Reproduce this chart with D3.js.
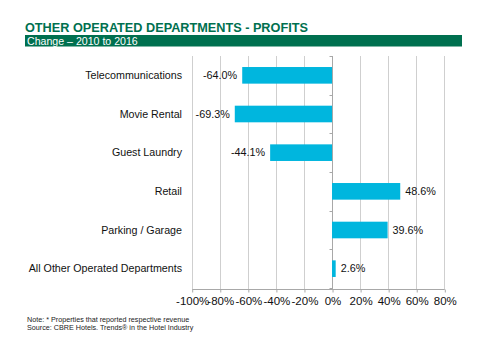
<!DOCTYPE html>
<html>
<head>
<meta charset="utf-8">
<script src="https://cdn.jsdelivr.net/npm/d3@7"></script>
<style>
  body { margin: 0; background: #fff; }
  svg { display: block; font-family: "Liberation Sans", Arial, sans-serif; }
</style>
</head>
<body>
<script>
// Chart data
const categories = ['Telecommunications', 'Movie Rental', 'Guest Laundry', 'Retail', 'Parking / Garage', 'All Other Operated Departments'];
const values = [-64.0, -69.3, -44.1, 48.6, 39.6, 2.6];
const tickValues = [-100, -80, -60, -40, -20, 0, 20, 40, 60, 80];
const titleText = 'OTHER OPERATED DEPARTMENTS - PROFITS';
const subtitleText = 'Change \u2013 2010 to 2016';
const noteLines = ['Note: * Properties that reported respective revenue', 'Source: CBRE Hotels. Trends\u00ae in the Hotel Industry'];

const width = 480, height = 361;
const green = '#00704f';
const barColor = '#00b6de';

const svg = d3.select('body')
    .append('svg')
    .attr('width', width)
    .attr('height', height);

// Title and subtitle band
svg.append('text')
    .attr('x', 25)
    .attr('y', 32)
    .attr('fill', green)
    .attr('font-size', 12.7)
    .attr('font-weight', 'bold')
    .text(titleText);

svg.append('rect')
    .attr('x', 25)
    .attr('y', 35)
    .attr('width', 437)
    .attr('height', 11.5)
    .attr('fill', green);

svg.append('text')
    .attr('x', 27)
    .attr('y', 44.5)
    .attr('fill', '#fff')
    .attr('font-size', 10.6)
    .text(subtitleText);

// Scales
const x = d3.scaleLinear()
    .domain([-100, 80])
    .range([191.7, 444.3]);

const y = d3.scaleBand()
    .domain(categories)
    .range([56, 288])
    .paddingInner(0.57)
    .paddingOuter(0.285);

const plotTop = 56, plotBottom = 289;

// Vertical gridlines
svg.append('g')
    .selectAll('line')
    .data(tickValues)
    .join('line')
    .attr('x1', d => Math.round(x(d)) + 0.5)
    .attr('x2', d => Math.round(x(d)) + 0.5)
    .attr('y1', plotTop)
    .attr('y2', plotBottom)
    .attr('stroke', '#cfcfcf')
    .attr('stroke-width', 1);

// Bottom axis
const xAxis = d3.axisBottom(x)
    .tickValues(tickValues)
    .tickSize(3)
    .tickPadding(4)
    .tickFormat(d => d + '%');

const axisG = svg.append('g')
    .attr('transform', `translate(0.5, ${plotBottom + 0.5})`)
    .call(xAxis);
axisG.select('.domain').attr('stroke', '#a8a8a8').attr('d', `M${x(-100)},0H${x(80)}`);
axisG.selectAll('.tick line').attr('stroke', '#a8a8a8');
axisG.selectAll('.tick text')
    .attr('font-size', 11.5)
    .attr('font-family', '"Liberation Sans", Arial, sans-serif')
    .attr('fill', '#111');

// Zero line with small category ticks
const zx = Math.round(x(0)) + 0.5;
svg.append('line')
    .attr('x1', zx).attr('x2', zx)
    .attr('y1', plotTop).attr('y2', plotBottom)
    .attr('stroke', '#a8a8a8');

const step = y.step();
svg.append('g')
    .selectAll('line')
    .data(d3.range(categories.length + 1))
    .join('line')
    .attr('x1', zx - 3).attr('x2', zx)
    .attr('y1', i => Math.round(56 + i * step) + 0.5)
    .attr('y2', i => Math.round(56 + i * step) + 0.5)
    .attr('stroke', '#a8a8a8');

// Bars
svg.append('g')
    .selectAll('rect')
    .data(values)
    .join('rect')
    .attr('x', d => x(Math.min(0, d)))
    .attr('y', (d, i) => y(categories[i]))
    .attr('width', d => Math.abs(x(d) - x(0)))
    .attr('height', y.bandwidth())
    .attr('fill', barColor);

// Category labels
svg.append('g')
    .selectAll('text')
    .data(categories)
    .join('text')
    .attr('x', 182)
    .attr('y', d => y(d) + y.bandwidth() / 2)
    .attr('dy', '0.35em')
    .attr('text-anchor', 'end')
    .attr('font-size', 10.7)
    .attr('fill', '#111')
    .text(d => d);

// Value labels
svg.append('g')
    .selectAll('text')
    .data(values)
    .join('text')
    .attr('x', d => d < 0 ? x(d) - 5 : x(d) + 5)
    .attr('y', (d, i) => y(categories[i]) + y.bandwidth() / 2)
    .attr('dy', '0.35em')
    .attr('text-anchor', d => d < 0 ? 'end' : 'start')
    .attr('font-size', 10.8)
    .attr('fill', '#111')
    .text(d => d.toFixed(1) + '%');

// Notes
svg.append('g')
    .selectAll('text')
    .data(noteLines)
    .join('text')
    .attr('x', 27)
    .attr('y', (d, i) => 322 + i * 8)
    .attr('font-size', 7.2)
    .attr('fill', '#222')
    .text(d => d);
</script>
</body>
</html>
